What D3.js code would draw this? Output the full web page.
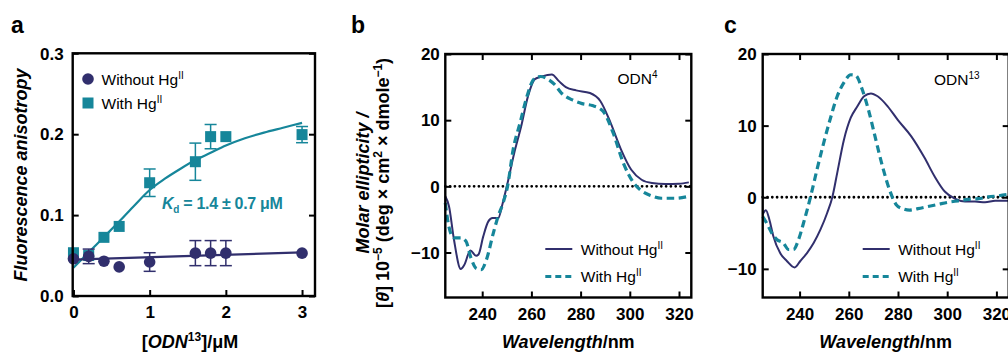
<!DOCTYPE html>
<html>
<head>
<meta charset="utf-8">
<script src="https://cdn.jsdelivr.net/npm/d3@7"></script>
<style>
  html, body { margin: 0; padding: 0; background: #fff; }
  svg { display: block; }
</style>
</head>
<body>
<div id="chart"></div>
<script>
// ---- data ----
// panel a: fluorescence anisotropy titration
const odnConc = [0, 0.2, 0.4, 0.6, 1, 1.6, 1.8, 2, 3];
const anisoWithout = [0.046, 0.049, 0.043, 0.036, 0.042, 0.053, 0.053, 0.053, 0.053];
const anisoWithoutErr = [0, 0.009, 0, 0, 0.0115, 0.0155, 0.0155, 0.0155, 0];
const anisoWith = [0.0535, 0.050, 0.0725, 0.086, 0.140, 0.166, 0.197, 0.197, 0.1995];
const anisoWithErr = [0, 0, 0, 0, 0.017, 0.023, 0.015, 0, 0.01];
// fitted lines
const fitWithoutX = [0, 3];
const fitWithoutY = [0.045, 0.054];
const fitWithX = [0, 0.2, 0.4, 0.6, 0.8, 1.0, 1.2, 1.4, 1.6, 1.8, 2.0, 2.25, 2.5, 2.75, 3.0];
const fitWithY = [0.035, 0.054, 0.073, 0.092, 0.112, 0.131, 0.145, 0.157, 0.168, 0.177, 0.186, 0.195, 0.202, 0.208, 0.214];
const anisoTicksX = [0, 1, 2, 3];
const anisoTicksY = [0, 0.1, 0.2, 0.3];

// panel b: CD spectra of ODN4
const odn4WlWithout = [225, 226.5, 228.5, 231.3, 232.7, 235.2, 237.5, 238.5, 240.4, 242.5, 244.2, 246.5, 248.3, 250, 253, 255.8, 258.6, 261.4, 264.2, 268.3, 271.2, 274, 278.2, 283.8, 288, 292.2, 296.4, 300.6, 304.8, 309, 314.5, 320, 324];
const odn4Without = [-1.5, -3, -8, -12.5, -11.9, -9.7, -10.5, -10.3, -7.6, -5.3, -4.8, -4.8, -2.6, 0, 5, 9, 13.6, 16.2, 16.6, 16.9, 15.9, 15, 14.5, 14.1, 12.9, 9.6, 5.6, 2.5, 1, 0.5, 0.35, 0.4, 0.6];
const odn4WlWith = [225, 226.4, 228.5, 231.3, 233.4, 235.5, 237.6, 239.6, 241.7, 244.5, 246.5, 248.5, 250.3, 252.6, 255.4, 258.2, 261, 263.8, 266.6, 269.4, 272.2, 276.4, 280.6, 284.8, 289, 293.2, 297.4, 301.6, 304.5, 308.6, 312.8, 318.4, 324];
const odn4With = [-2.5, -6, -7.8, -7.8, -8.3, -10.9, -12.4, -12.6, -11.1, -7.1, -4.5, -2.5, 0, 5.6, 9.6, 13.6, 16.2, 16.6, 16.2, 15.4, 14.1, 13.1, 12.5, 12.2, 11.4, 8.1, 3.5, 0.5, -0.6, -1.4, -1.8, -1.8, -1.5];

// panel c: CD spectra of ODN13
const odn13WlWithout = [225, 226.3, 227.7, 229.3, 232.1, 234.8, 238, 240.3, 243, 245.7, 248.5, 251.2, 253.3, 255.3, 258, 260.8, 263.5, 266.2, 269, 271.7, 275.8, 279.9, 285.4, 290.8, 294.9, 299, 303.1, 307.2, 311.3, 315.4, 319.5, 325];
const odn13Without = [-2.4, -1.8, -3.1, -5.4, -7.8, -8.9, -9.8, -8.9, -7.8, -6.4, -4.5, -2.2, 0, 3.4, 8, 11.1, 12.7, 14.1, 14.5, 14.1, 12.7, 10.8, 8.5, 5.5, 2.9, 0.8, -0.2, -0.6, -0.6, -0.7, -0.5, -0.5];
const odn13WlWith = [225, 226.6, 228.7, 230.7, 233.4, 235.5, 237.5, 239.6, 241.6, 244.4, 247.1, 249.8, 252.6, 255.3, 258, 260.8, 262.8, 265.5, 268.3, 271, 273.7, 276.5, 279.2, 281.9, 284.7, 288.1, 292.2, 296.3, 300.4, 304.5, 308.6, 312.7, 316.8, 320.9, 325];
const odn13With = [-2.7, -3.6, -5, -5.9, -6.4, -7.3, -7.3, -5.9, -3.6, 0, 3.9, 7.6, 11.1, 14.1, 16, 17.1, 17, 15, 11.8, 8, 4.3, 1.1, -1, -1.6, -1.8, -1.6, -1.3, -1, -0.7, -0.5, -0.3, -0.2, 0.05, 0.2, 0.4];

const wlTicks = [240, 260, 280, 300, 320];
const odn4TicksY = [-10, 0, 10, 20];
const odn13TicksY = [-10, 0, 10, 20];

const seriesNames = ["Without Hg", "With Hg"];

// ---- styling ----
const W = 1008, H = 353;
const navy = "#312f6d";
const teal = "#16869a";
const font = "'Liberation Sans', Arial, Helvetica, sans-serif";

const svg = d3.select("#chart").append("svg")
  .attr("width", W)
  .attr("height", H)
  .attr("font-family", font);

// draw frame + inward ticks on all sides using d3 axes
function drawFrame(x, y, xTicks, xFmt, yTicks, yFmt, yPad, topTicks) {
  const [x0, x1] = x.range();
  const [y0, y1] = y.range(); // y0 = bottom

  const bottom = svg.append("g")
    .attr("transform", "translate(0," + y0 + ")")
    .call(d3.axisBottom(x).tickValues(xTicks).tickFormat(xFmt).tickSizeInner(-6).tickSizeOuter(0).tickPadding(10));
  const left = svg.append("g")
    .attr("transform", "translate(" + x0 + ",0)")
    .call(d3.axisLeft(y).tickValues(yTicks).tickFormat(yFmt).tickSizeInner(-6).tickSizeOuter(0).tickPadding(yPad));
  svg.append("g")
    .attr("transform", "translate(" + x1 + ",0)")
    .call(d3.axisRight(y).tickValues(yTicks).tickFormat("").tickSizeInner(-6).tickSizeOuter(0));
  if (topTicks) {
    svg.append("g")
      .attr("transform", "translate(0," + y1 + ")")
      .call(d3.axisTop(x).tickValues(xTicks).tickFormat("").tickSizeInner(-6).tickSizeOuter(0));
  }
  svg.selectAll(".domain").remove();
  svg.selectAll(".tick line").attr("stroke", "#000").attr("stroke-width", 2);
  [bottom, left].forEach(g => g.selectAll("text")
    .attr("font-family", font)
    .attr("font-size", 17)
    .attr("font-weight", "bold")
    .attr("fill", "#000"));
  left.selectAll("text").attr("dy", "0.34em");

  svg.append("rect")
    .attr("x", x0).attr("y", y1)
    .attr("width", x1 - x0).attr("height", y0 - y1)
    .attr("fill", "none").attr("stroke", "#000").attr("stroke-width", 2.4);
}

function panelLetter(txt, xp) {
  svg.append("text").attr("x", xp).attr("y", 33)
    .attr("font-size", 23).attr("font-weight", "bold").text(txt);
}

function hgLabel(sel, name) {
  sel.append("tspan").text(name);
  sel.append("tspan").attr("font-size", 10).attr("dy", -6).text("II");
}

// ================= panel a =================
const xA = d3.scaleLinear().domain([-0.01, 3.17]).range([72.7, 315]);
const yA = d3.scaleLinear().domain([0, 0.3]).range([296, 53.3]);

panelLetter("a", 11);

const lineA = d3.line().x(d => xA(d[0])).y(d => yA(d[1]));
const lineAcurve = d3.line().x(d => xA(d[0])).y(d => yA(d[1])).curve(d3.curveMonotoneX);

function errorBars(vals, errs, color) {
  const rows = odnConc.map((c, i) => ({c, v: vals[i], e: errs[i]})).filter(d => d.e > 0);
  const g = svg.append("g").attr("stroke", color).attr("stroke-width", 1.5);
  g.selectAll("line.v").data(rows).join("line")
    .attr("x1", d => xA(d.c)).attr("x2", d => xA(d.c))
    .attr("y1", d => yA(d.v - d.e)).attr("y2", d => yA(d.v + d.e));
  g.selectAll("line.t").data(rows).join("line")
    .attr("x1", d => xA(d.c) - 6).attr("x2", d => xA(d.c) + 6)
    .attr("y1", d => yA(d.v + d.e)).attr("y2", d => yA(d.v + d.e));
  g.selectAll("line.b").data(rows).join("line")
    .attr("x1", d => xA(d.c) - 6).attr("x2", d => xA(d.c) + 6)
    .attr("y1", d => yA(d.v - d.e)).attr("y2", d => yA(d.v - d.e));
}

errorBars(anisoWith, anisoWithErr, teal);
svg.append("g").selectAll("rect").data(odnConc.map((c, i) => [c, anisoWith[i]])).join("rect")
  .attr("x", d => xA(d[0]) - 5.5).attr("y", d => yA(d[1]) - 5.5)
  .attr("width", 11).attr("height", 11).attr("fill", teal);

svg.append("path").datum(fitWithX.map((v, i) => [v, fitWithY[i]]))
  .attr("d", lineAcurve).attr("fill", "none").attr("stroke", teal).attr("stroke-width", 2.2);

errorBars(anisoWithout, anisoWithoutErr, navy);
svg.append("path").datum(fitWithoutX.map((v, i) => [v, fitWithoutY[i]]))
  .attr("d", lineA).attr("fill", "none").attr("stroke", navy).attr("stroke-width", 2.2);
svg.append("g").selectAll("circle").data(odnConc.map((c, i) => [c, anisoWithout[i]])).join("circle")
  .attr("cx", d => xA(d[0])).attr("cy", d => yA(d[1])).attr("r", 5.8).attr("fill", navy);

drawFrame(xA, yA, anisoTicksX, d3.format("d"), anisoTicksY, d3.format(".1f"), 9, false);

// legend a
svg.append("circle").attr("cx", 88).attr("cy", 79).attr("r", 5.8).attr("fill", navy);
svg.append("rect").attr("x", 82.5).attr("y", 97.5).attr("width", 11).attr("height", 11).attr("fill", teal);
hgLabel(svg.append("text").attr("x", 101.5).attr("y", 84.5).attr("font-size", 15.5), seriesNames[0]);
hgLabel(svg.append("text").attr("x", 101.5).attr("y", 108.5).attr("font-size", 15.5), seriesNames[1]);

// Kd annotation
const kd = svg.append("text").attr("x", 162).attr("y", 208.5)
  .attr("font-size", 16).attr("font-weight", "bold").attr("fill", teal)
  .attr("letter-spacing", -0.3);
kd.append("tspan").attr("font-style", "italic").text("K");
kd.append("tspan").attr("font-size", 10).attr("dy", 4).text("d");
kd.append("tspan").attr("dy", -4).text(" = 1.4 \u00b1 0.7 \u03bcM");

// axis titles a
svg.append("text").attr("transform", "translate(27,175) rotate(-90)")
  .attr("text-anchor", "middle").attr("font-size", 18).attr("font-weight", "bold")
  .attr("font-style", "italic").text("Fluorescence anisotropy");
const xtA = svg.append("text").attr("x", 190).attr("y", 348)
  .attr("text-anchor", "middle").attr("font-size", 18).attr("font-weight", "bold");
xtA.append("tspan").text("[");
xtA.append("tspan").attr("font-style", "italic").text("ODN");
xtA.append("tspan").attr("font-size", 12).attr("dy", -7).text("13");
xtA.append("tspan").attr("dy", 7).text("]/\u03bcM");

// ================= panels b, c =================
function cdPanel(left, yDomain, wlA, vA, wlB, vB, tag, letterX, tagX, tagY, yPad) {
  const x = d3.scaleLinear().domain([225, 325]).range([left, left + 246]);
  const y = d3.scaleLinear().domain(yDomain).range([297.5, 54]);

  panelLetter(tag.letter, letterX);

  // dotted zero line
  svg.append("line")
    .attr("x1", x(225)).attr("x2", x(325)).attr("y1", y(0)).attr("y2", y(0))
    .attr("stroke", "#000").attr("stroke-width", 2.8)
    .attr("stroke-dasharray", "0,4.8").attr("stroke-linecap", "round");

  const line = d3.line().x(d => x(d[0])).y(d => y(d[1])).curve(d3.curveMonotoneX);
  svg.append("path").datum(wlA.map((w, i) => [w, vA[i]]))
    .attr("d", line).attr("fill", "none").attr("stroke", navy).attr("stroke-width", 2);
  svg.append("path").datum(wlB.map((w, i) => [w, vB[i]]))
    .attr("d", line).attr("fill", "none").attr("stroke", teal).attr("stroke-width", 3.2)
    .attr("stroke-dasharray", "7.5,4.5");

  drawFrame(x, y, wlTicks, d3.format("d"), tag.yTicks, d3.format("d"), yPad, true);

  // ODN tag
  const t = svg.append("text").attr("x", tagX).attr("y", tagY).attr("font-size", 15.5);
  t.append("tspan").text("ODN");
  t.append("tspan").attr("font-size", 10).attr("dy", -6).text(tag.sup);

  // legend
  const lx = left + 100;
  svg.append("line").attr("x1", lx).attr("x2", lx + 27).attr("y1", 249).attr("y2", 249)
    .attr("stroke", navy).attr("stroke-width", 2);
  svg.append("line").attr("x1", lx).attr("x2", lx + 27).attr("y1", 276.5).attr("y2", 276.5)
    .attr("stroke", teal).attr("stroke-width", 3.2).attr("stroke-dasharray", "6,4");
  hgLabel(svg.append("text").attr("x", lx + 35.5).attr("y", 254.5).attr("font-size", 15.5), seriesNames[0]);
  hgLabel(svg.append("text").attr("x", lx + 35.5).attr("y", 282).attr("font-size", 15.5), seriesNames[1]);

  // x title
  const xt = svg.append("text").attr("x", left + 123).attr("y", 348)
    .attr("text-anchor", "middle").attr("font-size", 18).attr("font-weight", "bold");
  xt.append("tspan").attr("font-style", "italic").text("Wavelength");
  xt.append("tspan").text("/nm");
}

cdPanel(445.3, [-16.8, 20], odn4WlWithout, odn4Without, odn4WlWith, odn4With,
  {letter: "b", sup: "4", yTicks: odn4TicksY}, 351, 617.5, 83.5, 5.5);
cdPanel(762.7, [-14, 20], odn13WlWithout, odn13Without, odn13WlWith, odn13With,
  {letter: "c", sup: "13", yTicks: odn13TicksY}, 724, 934, 85, 6);

// y title b (two lines)
svg.append("text").attr("transform", "translate(369,183) rotate(-90)")
  .attr("text-anchor", "middle").attr("font-size", 18).attr("font-weight", "bold")
  .attr("font-style", "italic").text("Molar ellipticity /");
const yt2 = svg.append("text").attr("transform", "translate(389,183) rotate(-90)")
  .attr("text-anchor", "middle").attr("font-size", 18).attr("font-weight", "bold");
yt2.append("tspan").text("[");
yt2.append("tspan").attr("font-style", "italic").text("\u03b8");
yt2.append("tspan").text("] 10");
yt2.append("tspan").attr("font-size", 12).attr("dy", -7).text("\u22125");
yt2.append("tspan").attr("dy", 7).text(" (deg \u00d7 cm");
yt2.append("tspan").attr("font-size", 12).attr("dy", -7).text("2");
yt2.append("tspan").attr("dy", 7).text(" \u00d7 dmole");
yt2.append("tspan").attr("font-size", 12).attr("dy", -7).text("\u22121");
yt2.append("tspan").attr("dy", 7).text(")");
</script>
</body>
</html>
